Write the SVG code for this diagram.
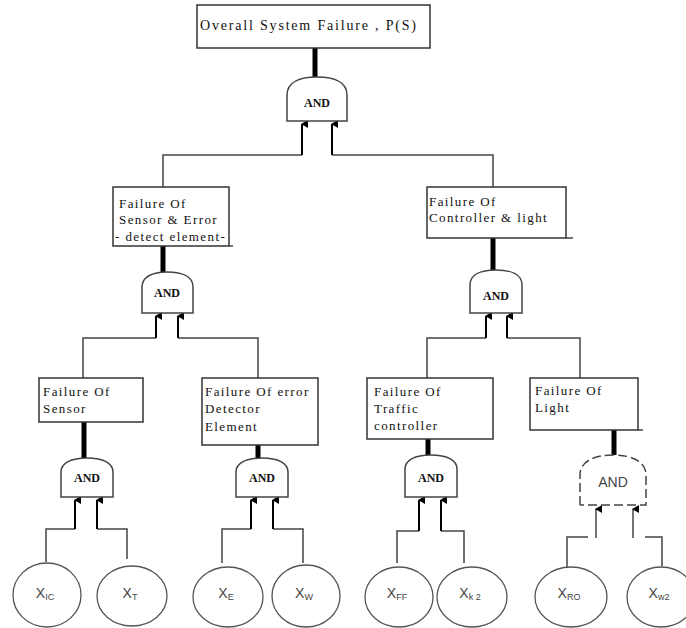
<svg xmlns="http://www.w3.org/2000/svg" width="686" height="628" viewBox="0 0 686 628">
<style>
.box{fill:#fff;stroke:#333;stroke-width:1.5}
.lbl{font-family:"Liberation Serif","Times New Roman",serif;font-size:13px;letter-spacing:1.4px;fill:#111}
.gate{fill:#fff;stroke:#444;stroke-width:1.5}
.gtxt{font-family:"Liberation Serif","Times New Roman",serif;font-size:12px;font-weight:bold;fill:#111;text-anchor:middle}
.thin{fill:none;stroke:#444;stroke-width:1.5}
.arr{fill:none;stroke:#000;stroke-width:2}
.thick{stroke:#000;stroke-width:5}
.ev{fill:#fff;stroke:#555;stroke-width:1.3}
.etxt{font-family:"Liberation Sans",Arial,sans-serif;font-size:14px;fill:#444;text-anchor:middle}
.sub{font-size:9px}
</style>
<defs>
<marker id="ah" markerUnits="userSpaceOnUse" markerWidth="8" markerHeight="8" refX="4" refY="1" orient="auto-start-reverse" viewBox="0 0 8 8">
<path d="M0,7 L4,0 L8,7 Z" fill="#000"/>
</marker>
</defs>
<rect width="686" height="628" fill="#fff"/>

<g id="connectors">
<line class="thick" x1="315" y1="48" x2="315" y2="78"/>
<line class="thick" x1="163" y1="246" x2="163" y2="273"/>
<line class="thick" x1="493" y1="238" x2="493" y2="271"/>
<line class="thick" x1="84" y1="422" x2="84" y2="459"/>
<line class="thick" x1="258" y1="445" x2="258" y2="459"/>
<line class="thick" x1="428" y1="439" x2="428" y2="456"/>
<line class="thick" x1="614" y1="430" x2="614" y2="456"/>

<polyline class="thin" points="163,187 163,155 302,155"/>
<polyline class="thin" points="493,187 493,155 332,155"/>
<line class="arr" x1="302" y1="155" x2="302" y2="124" marker-end="url(#ah)"/>
<line class="arr" x1="332" y1="155" x2="332" y2="124" marker-end="url(#ah)"/>

<polyline class="thin" points="83,378 83,338 156,338"/>
<polyline class="thin" points="258,378 258,338 178,338"/>
<line class="arr" x1="156" y1="338" x2="156" y2="316" marker-end="url(#ah)"/>
<line class="arr" x1="178" y1="338" x2="178" y2="316" marker-end="url(#ah)"/>

<polyline class="thin" points="427,378 427,338 486,338"/>
<polyline class="thin" points="580,378 580,338 507,338"/>
<line class="arr" x1="486" y1="338" x2="486" y2="316" marker-end="url(#ah)"/>
<line class="arr" x1="507" y1="338" x2="507" y2="316" marker-end="url(#ah)"/>

<polyline class="thin" points="46,562 46,529 75,529"/>
<polyline class="thin" points="127,559 127,529 97,529"/>
<line class="arr" x1="75" y1="529" x2="75" y2="500" marker-end="url(#ah)"/>
<line class="arr" x1="97" y1="529" x2="97" y2="500" marker-end="url(#ah)"/>

<polyline class="thin" points="222,563 222,529 251,529"/>
<polyline class="thin" points="303,563 303,529 273,529"/>
<line class="arr" x1="251" y1="529" x2="251" y2="500" marker-end="url(#ah)"/>
<line class="arr" x1="273" y1="529" x2="273" y2="500" marker-end="url(#ah)"/>

<polyline class="thin" points="397,563 397,531 419,531"/>
<polyline class="thin" points="464,563 464,531 441,531"/>
<line class="arr" x1="419" y1="531" x2="419" y2="500" marker-end="url(#ah)"/>
<line class="arr" x1="441" y1="531" x2="441" y2="500" marker-end="url(#ah)"/>

<polyline class="thin" points="567,568 567,537 588,537"/>
<polyline class="thin" points="645,537 662,537 662,566"/>
<line class="thin" x1="596" y1="538" x2="596" y2="509" marker-end="url(#ah)"/>
<line class="thin" x1="633" y1="538" x2="633" y2="509" marker-end="url(#ah)"/>
</g>

<g id="top">
<rect class="box" x="197" y="5" width="233" height="43"/>
<text x="200" y="30" font-family="Liberation Serif,Times New Roman,serif" font-size="14" fill="#111" textLength="216">Overall System Failure , P(S)</text>
</g>
<g id="gate-top">
<path class="gate" d="M287,121 V95 C287,82 300,77 317,77 C334,77 347,82 347,95 V121 Z"/>
<text class="gtxt" x="317" y="107">AND</text>
</g>

<g id="sensor-error">
<rect class="box" x="113" y="187" width="116" height="59"/>
<line class="thin" x1="229" y1="246" x2="233" y2="246"/>
<text class="lbl" x="119" y="208">Failure Of</text>
<text class="lbl" x="119" y="224">Sensor &amp; Error</text>
<text class="lbl" x="115" y="241">- detect element-</text>
</g>
<g id="gate-sensor-error">
<path class="gate" d="M142,313 V287 C142,277 152,272 167,272 C183,272 193,277 193,287 V313 Z"/>
<text class="gtxt" x="167" y="297">AND</text>
</g>

<g id="controller-light">
<rect class="box" x="427" y="187" width="139" height="51"/>
<line class="thin" x1="566" y1="238" x2="573" y2="238"/>
<text class="lbl" x="429" y="206">Failure Of</text>
<text class="lbl" x="429" y="222">Controller &amp; light</text>
</g>
<g id="gate-controller-light">
<path class="gate" d="M470,313 V285 C470,275 480,270 496,270 C512,270 522,275 522,285 V313 Z"/>
<text class="gtxt" x="496" y="300">AND</text>
</g>

<g id="sensor">
<rect class="box" x="39" y="378" width="104" height="44"/>
<text class="lbl" x="43" y="396">Failure Of</text>
<text class="lbl" x="43" y="413">Sensor</text>
</g>
<g id="gate-sensor">
<path class="gate" d="M61,497 V472 C61,463 71,458 87,458 C103,458 113,463 113,472 V497 Z"/>
<text class="gtxt" x="87" y="482">AND</text>
</g>

<g id="error-detector">
<rect class="box" x="202" y="378" width="116" height="67"/>
<text class="lbl" x="205" y="396">Failure Of error</text>
<text class="lbl" x="205" y="413">Detector</text>
<text class="lbl" x="205" y="431">Element</text>
</g>
<g id="gate-error-detector">
<path class="gate" d="M236,497 V472 C236,463 246,458 262,458 C278,458 288,463 288,472 V497 Z"/>
<text class="gtxt" x="262" y="482">AND</text>
</g>

<g id="traffic-controller">
<rect class="box" x="367" y="378" width="126" height="61"/>
<text class="lbl" x="374" y="396">Failure Of</text>
<text class="lbl" x="374" y="413">Traffic</text>
<text class="lbl" x="374" y="430">controller</text>
</g>
<g id="gate-traffic-controller">
<path class="gate" d="M405,497 V469 C405,460 415,455 431,455 C447,455 457,460 457,469 V497 Z"/>
<text class="gtxt" x="431" y="482">AND</text>
</g>

<g id="light">
<rect class="box" x="530" y="378" width="108" height="52"/>
<line class="thin" x1="638" y1="430" x2="643" y2="430"/>
<text class="lbl" x="535" y="395">Failure Of</text>
<text class="lbl" x="535" y="412">Light</text>
</g>
<g id="gate-light">
<path d="M580,505 V475 C580,462 593,455 613,455 C633,455 646,462 646,475 V505 H580" fill="#fff" stroke="#444" stroke-width="1.5" stroke-dasharray="9,4"/>
<text x="613" y="487" font-family="Liberation Sans,Arial,sans-serif" font-size="14" fill="#444" text-anchor="middle">AND</text>
</g>

<g id="x-ic"><ellipse class="ev" cx="47" cy="595" rx="34" ry="32"/><text class="etxt" x="45" y="598">X<tspan class="sub" dy="2">IC</tspan></text></g>
<g id="x-t"><ellipse class="ev" cx="132" cy="596" rx="35" ry="30"/><text class="etxt" x="130" y="598">X<tspan class="sub" dy="2">T</tspan></text></g>
<g id="x-e"><ellipse class="ev" cx="228" cy="597" rx="35" ry="30"/><text class="etxt" x="226" y="598">X<tspan class="sub" dy="2">E</tspan></text></g>
<g id="x-w"><ellipse class="ev" cx="306" cy="596" rx="34" ry="31"/><text class="etxt" x="304" y="598">X<tspan class="sub" dy="2">W</tspan></text></g>
<g id="x-ff"><ellipse class="ev" cx="399" cy="597" rx="34" ry="30"/><text class="etxt" x="397" y="598">X<tspan class="sub" dy="2">FF</tspan></text></g>
<g id="x-k2"><ellipse class="ev" cx="472" cy="597" rx="35" ry="30"/><text class="etxt" x="470" y="598">X<tspan class="sub" dy="2">k 2</tspan></text></g>
<g id="x-ro"><ellipse class="ev" cx="571" cy="597" rx="36" ry="30"/><text class="etxt" x="569" y="598">X<tspan class="sub" dy="2">RO</tspan></text></g>
<g id="x-w2"><ellipse class="ev" cx="661" cy="597" rx="34" ry="30"/><text class="etxt" x="659" y="598">X<tspan class="sub" dy="2">w2</tspan></text></g>
</svg>
